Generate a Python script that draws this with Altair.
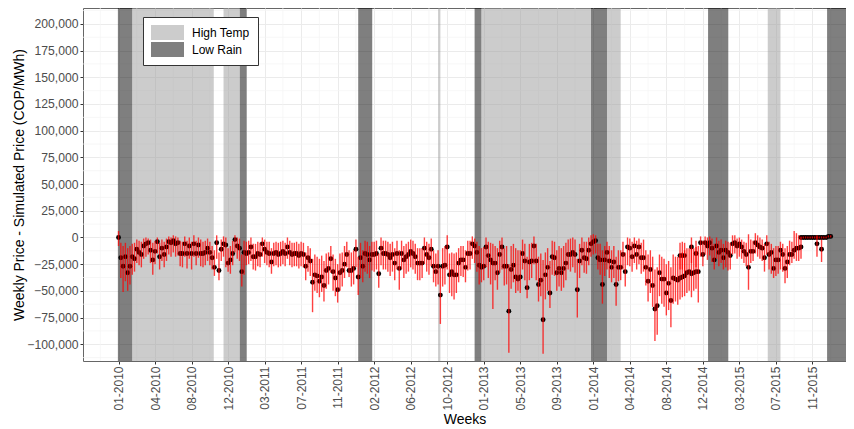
import altair as alt
import pandas as pd

# weekly price minus simulated price, in thousands of COP/MWh (one value per week from 2010-01-06)
price_diff = [
    0, -19, -27, -18, -33, -27, -18, -20, -11, -14, -16, -8, -6, -5, -12, -21, -13, -4, -18, -10,
    -16, -9, -4, -5, -3, -6, -5, -15, -15, -6, -15, -8, -15, -6, -15, -7, -15, -15, -14, -10,
    -14, -19, -28, -5, -31, -11, -6,
    -7, -24, -21, -15, -2, -8, -10, -32, -14, -15, -14, -9, -18, -18, -15, -16, -6, -11, -14, -15,
    -23, -15, -14, -16, -15, -13, -15, -9, -14, -16, -15, -15, -17, -15, -16, -27, -19, -22, -42, -35,
    -36, -41, -37, -45, -31, -29, -20, -32, -38, -49, -33, -31, -25, -16, -31,
    -31, -29, -11, -37, -19, -27, -15, -16, -21, -16, -16, -15, -34, -10, -15, -15, -16, -19, -16, -24,
    -15, -29, -15, -21, -18, -16, -13, -15, -18, -24, -24, -24, -10, -16, -19, -11, -27, -32, -27, -54,
    -27, -26, -9, -35, -32, -35, -35, -24, -21, -21, -28, -15, -15, -6,
    -8, -14, -26, -28, -27, -9, -17, -21, -24, -24, -33, -16, -9, -27, -27, -69, -30, -26, -37, -39,
    -37, -15, -22, -47, -23, -22, -8, -22, -44, -40, -77, -35, -28, -52, -18, -19, -33, -29, -33, -29,
    -24, -16, -16, -14, -16, -49, -22, -12, -19, -20, -12, -6, -4, -3, -19,
    -21, -44, -21, -14, -22, -28, -23, -44, -28, -28, -16, -32, -9, -10, -18, -8, -16, -9, -19, -19,
    -28, -41, -30, -45, -67, -64, -33, -39, -39, -52, -43, -59, -38, -39, -40, -38, -37, -36, -33, -32,
    -34, -33, -32, -32, -5, -16, -5, -8, -5, -10, -21, -8, -14, -12, -19,
    -12, -14, -17, -6, -5, -8, -6, -9, -13, -16, -28, -13, -13, -5, -7, -9, -10, -19, -6, -16,
    -14, -29, -21, -21, -12, -16, -29, -23, -16, -16, -12, -10, -10, 0, 0, 0, 0, 0, 0, 0,
    0, 0, 0, 0, 0, 1, 1,
]
price_hi = [
    6, -5, -8, -5, -10, -8, -6, -5, -2, -3, -4, -1, 0, -1, -2, -5, -3, 0, -5, -2,
    -4, -1, 1, 0, 2, 1, 0, -3, -4, 1, -3, 0, -4, 2, -3, 0, -2, -4, -3, -1,
    -4, -8, -12, 2, -14, -2, 1,
    0, -10, -8, -3, 2, 0, -1, -16, -3, -4, -3, 0, -6, -6, -4, -5, 0, -2, -4, -4,
    -10, -5, -4, -5, -4, -3, -5, 0, -3, -5, -5, -4, -6, -4, -5, -14, -8, -10, -20, -16,
    -18, -20, -17, -22, -15, -14, -8, -16, -20, -25, -15, -14, -8, -4, -12,
    -14, -12, -2, -18, -5, -12, -3, -4, -8, -4, -4, -3, -15, 0, -3, -3, -4, -6, -4, -10,
    -3, -12, -3, -8, -6, -4, -2, -3, -6, -10, -10, -10, 0, -4, -6, -1, -12, -15, -12, -28,
    -10, -8, 2, -15, -14, -15, -14, -10, -8, -8, -12, -3, -3, 1,
    -1, -4, -8, -10, -9, 0, -4, -5, -6, -8, -10, -3, 0, -10, -8, -25, -8, -6, -10, -12,
    -12, -2, -6, -18, -6, -5, 1, -6, -18, -15, -21, -14, -10, -22, -3, -4, -12, -8, -10, -8,
    -5, -2, -1, 0, -2, -20, -6, 0, -4, -4, 0, 2, 3, 2, -6,
    -6, -12, -8, -4, -8, -12, -8, -18, -12, -12, -4, -14, 0, -1, -4, 0, -3, -1, -5, -2,
    -12, -16, -12, -18, -30, -28, -16, -18, -20, -25, -22, -28, -16, -18, -18, -16, -14, -12, -10, -10,
    -10, -10, -9, -8, 1, -3, 1, 0, 1, -1, -6, 0, -3, -2, -6,
    -3, -4, -5, 2, 2, -1, 0, -2, -4, -5, 3, -2, -3, 4, 2, 0, -2, -6, 2, -4,
    -6, -10, -8, -8, -4, -6, -10, -8, -3, -4, 6, 4, 2, 1, 1, 1, 1, 1, 1, 1,
    1, 1, 1, 1, 1, 2, 2,
]
price_lo = [
    -8, -38, -51, -41, -50, -44, -35, -32, -24, -26, -28, -20, -18, -16, -24, -35, -25, -15, -30, -22,
    -28, -22, -16, -18, -14, -18, -17, -27, -28, -18, -29, -20, -30, -18, -26, -19, -27, -28, -26, -22,
    -26, -30, -36, -20, -40, -22, -18,
    -28, -32, -34, -26, -14, -20, -22, -46, -35, -26, -25, -22, -30, -31, -27, -28, -18, -24, -26, -28,
    -34, -27, -26, -28, -27, -25, -27, -20, -26, -28, -27, -27, -29, -27, -28, -40, -32, -36, -70, -50,
    -52, -56, -51, -60, -48, -44, -33, -50, -55, -61, -50, -46, -38, -28, -37,
    -46, -44, -28, -54, -38, -42, -32, -34, -38, -31, -32, -30, -47, -26, -30, -30, -32, -36, -32, -40,
    -30, -49, -30, -38, -34, -32, -28, -30, -34, -40, -40, -38, -25, -32, -35, -27, -42, -46, -44, -81,
    -46, -44, -30, -52, -55, -58, -52, -42, -36, -37, -42, -31, -30, -20,
    -24, -32, -44, -42, -40, -28, -38, -44, -67, -40, -49, -33, -30, -45, -44, -108, -48, -42, -52, -50,
    -52, -30, -40, -57, -40, -38, -25, -40, -60, -55, -109, -58, -50, -66, -35, -36, -50, -46, -50, -47,
    -40, -30, -32, -28, -33, -75, -38, -26, -33, -34, -26, -18, -16, -15, -30,
    -35, -62, -36, -30, -38, -42, -38, -64, -41, -40, -30, -46, -26, -27, -32, -24, -30, -25, -34, -32,
    -45, -60, -52, -65, -97, -91, -55, -62, -65, -73, -68, -84, -62, -60, -63, -58, -56, -55, -52, -50,
    -56, -50, -48, -61, -18, -27, -16, -21, -17, -23, -30, -20, -27, -24, -30,
    -28, -31, -30, -16, -15, -20, -18, -20, -24, -27, -49, -24, -22, -15, -18, -20, -22, -32, -16, -30,
    -34, -38, -36, -34, -30, -32, -43, -38, -26, -24, -20, -22, -22, -1, -1, -1, -1, -1, -1, -1,
    -1, -1, -1, -1, -1, 0, 0,
]

# weeks that carry a second observation
extra_week = [246, 247, 248, 251, 253, 299, 306, 308]
extra_diff = [-17, -17, -17, -9, -15, -9, -6, -11]
extra_hi = [-5, -4, -5, 0, -3, 0, 2, -2]
extra_lo = [-30, -30, -32, -24, -28, -20, -18, -23]

# climate periods
band_start = ['2010-01-04', '2010-02-17', '2010-11-24', '2011-01-13', '2012-01-11', '2012-09-12', '2013-01-02',
              '2013-01-23', '2013-12-25', '2014-02-12', '2014-12-19', '2015-06-20', '2015-12-19']
band_end = ['2010-02-17', '2010-10-25', '2011-01-13', '2011-02-03', '2012-02-23', '2012-09-19', '2013-01-23',
            '2013-12-25', '2014-02-12', '2014-03-26', '2015-02-19', '2015-07-29', '2016-03-31']
band_type = ['Low Rain', 'High Temp', 'High Temp', 'Low Rain', 'Low Rain', 'High Temp', 'Low Rain',
             'High Temp', 'Low Rain', 'High Temp', 'Low Rain', 'High Temp', 'Low Rain']

tick_dates = ['2010-01-06', '2010-04-28', '2010-08-18', '2010-12-08', '2011-03-30', '2011-07-20', '2011-11-09',
              '2012-02-29', '2012-06-20', '2012-10-10', '2013-01-30', '2013-05-22', '2013-09-11', '2014-01-01',
              '2014-04-23', '2014-08-13', '2014-12-03', '2015-03-25', '2015-07-15', '2015-11-04']
y_ticks = [-100000, -75000, -50000, -25000, 0, 25000, 50000, 75000, 100000, 125000, 150000, 175000, 200000]

x_range = ['2009-09-19', '2016-02-15']
y_range = [-115700, 214900]

FONT = 'Liberation Sans'


def to_dt(s):
    y, m, d = map(int, s.split('-'))
    return alt.DateTime(year=y, month=m, date=d)


weeks = pd.date_range('2010-01-06', periods=len(price_diff), freq='7D')
main = pd.DataFrame({'date': weeks, 'diff': price_diff, 'hi': price_hi, 'lo': price_lo})
extra = pd.DataFrame({'date': weeks[extra_week], 'diff': extra_diff, 'hi': extra_hi, 'lo': extra_lo})
df = pd.concat([main, extra], ignore_index=True)
for col in ['diff', 'hi', 'lo']:
    df[col] = df[col] * 1000

bands = pd.DataFrame({
    'start': pd.to_datetime(band_start),
    'end': pd.to_datetime(band_end),
    'type': band_type,
})

# minor grid halfway between the major ticks
tick_ts = pd.to_datetime(tick_dates)
half = pd.Timedelta(days=56)
minor_x = pd.DataFrame({'date': [tick_ts[0] - half] + [t + half for t in tick_ts]})
minor_y = pd.DataFrame({'val': [v - 12500 for v in y_ticks] + [y_ticks[-1] + 12500]})

x_scale = alt.Scale(domain=[to_dt(s) for s in x_range], nice=False)
y_scale = alt.Scale(domain=y_range, nice=False, zero=False)

x_axis = alt.Axis(
    values=[to_dt(s) for s in tick_dates], format='%m-%Y', labelAngle=270, title='Weeks',
    grid=True, gridColor='#ebebeb', domain=False, tickColor='#333333', tickSize=3,
    labelColor='#4d4d4d', labelFont=FONT, labelFontSize=12, labelPadding=2,
    titleFont=FONT, titleFontSize=14, titleFontWeight='normal', titleColor='black', titlePadding=2,
)
y_axis = alt.Axis(
    values=y_ticks, format=',d', title='Weekly Price - Simulated Price (COP/MWh)',
    grid=True, gridColor='#ebebeb', domain=False, tickColor='#333333', tickSize=3,
    labelColor='#4d4d4d', labelFont=FONT, labelFontSize=12.2, labelPadding=2,
    titleFont=FONT, titleFontSize=14, titleFontWeight='normal', titleColor='black', titlePadding=0,
)


def xenc(field):
    return alt.X(field, type='temporal', scale=x_scale, axis=x_axis)


def yenc(field):
    return alt.Y(field, type='quantitative', scale=y_scale, axis=y_axis)


grid_v = alt.Chart(minor_x).mark_rule(color='#f3f3f3', strokeWidth=0.7).encode(x=xenc('date'))
grid_h = alt.Chart(minor_y).mark_rule(color='#f3f3f3', strokeWidth=0.7).encode(y=yenc('val'))

shade = alt.Chart(bands).mark_rect(opacity=0.5, clip=True).encode(
    x=xenc('start'),
    x2='end:T',
    color=alt.Color('type:N',
                    scale=alt.Scale(domain=['High Temp', 'Low Rain'], range=['#999999', '#000000']),
                    legend=alt.Legend(
                        title=None, orient='none', legendX=60, legendY=9,
                        fillColor='white', strokeColor='#333333', padding=8,
                        symbolType='M-1,-1L3.4,-1L3.4,1L-1,1Z', symbolSize=225,
                        symbolStrokeWidth=0, symbolOpacity=0.5,
                        labelFont=FONT, labelFontSize=12, labelColor='black',
                        labelOffset=26, rowPadding=2,
                    )),
)

points = alt.Chart(df).mark_circle(size=24, color='black', opacity=1).encode(
    x=xenc('date'),
    y=yenc('diff'),
)

bars = alt.Chart(df).mark_rule(color='#ff0000', opacity=0.75, strokeWidth=1.4).encode(
    x=xenc('date'),
    y=yenc('lo'),
    y2='hi:Q',
)

chart = alt.layer(grid_v, grid_h, shade, points, bars).properties(
    width=763,
    height=353,
    padding={'left': 75, 'top': 0, 'right': 0, 'bottom': 66},
    autosize=alt.AutoSizeParams(type='none'),
).configure_view(
    stroke='#666666',
    strokeWidth=1,
)

chart.save("out.html", embed_options={"renderer": "svg", "actions": False})
